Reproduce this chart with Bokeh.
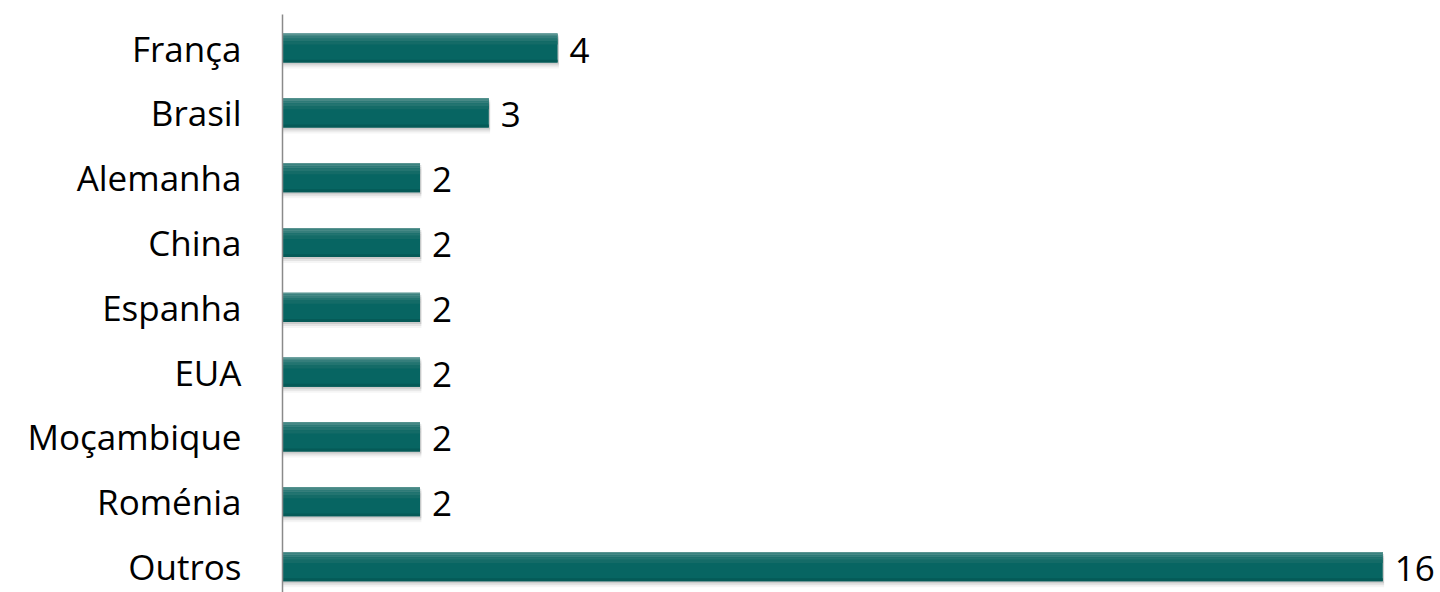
from bokeh.plotting import figure
from bokeh.models import Range1d, ColumnDataSource, FixedTicker
from bokeh.core.properties import value
from bokeh.embed import file_html
from bokeh.resources import INLINE

categories = ["França", "Brasil", "Alemanha", "China", "Espanha", "EUA", "Moçambique", "Roménia", "Outros"]
counts = [4, 3, 2, 2, 2, 2, 2, 2, 16]

positions = list(range(len(categories)))
src = ColumnDataSource(dict(y=positions, v=counts, lbl=[str(c) for c in counts]))

FONT = "Open Sans"
FS = "35px"

p = figure(width=1440, height=592, output_backend="svg", toolbar_location=None,
           x_range=Range1d(0, 16.84), y_range=Range1d(8.40, -0.517),
           min_border_left=282, min_border_right=0, min_border_top=14, min_border_bottom=0)
p.outline_line_color = None
p.background_fill_color = "white"
p.border_fill_color = "white"
p.xgrid.visible = False
p.ygrid.visible = False
p.xaxis.visible = False

bh = 0.45
px = 1.0 / 64.8
# soft shadow
for k, a in [(2, 0.10), (4, 0.07), (6, 0.04)]:
    s = ColumnDataSource(dict(y=[y + k * px for y in positions], v=[c + 0.02 for c in counts]))
    p.hbar(y="y", right="v", left=0, height=bh, source=s, fill_color="#000000", fill_alpha=a,
           line_color=None)
# main bar
p.hbar(y="y", right="v", left=0, height=bh, source=src, fill_color="#076562", line_color=None)
# gradient bands (top lighter)
bands = [("#5a9491", 0.0, 0.05), ("#478986", 0.05, 0.11), ("#357e7b", 0.11, 0.18),
         ("#237470", 0.18, 0.27), ("#146b67", 0.27, 0.38)]
for col, a, b in bands:
    h = (b - a) * bh
    c = -bh / 2 + (a + b) / 2 * bh
    s = ColumnDataSource(dict(y=[y + c for y in positions], v=counts))
    p.hbar(y="y", right="v", left=0, height=h, source=s, fill_color=col, line_color=None)
sb = ColumnDataSource(dict(y=[y + bh / 2 - 0.05 * bh for y in positions], v=counts))
p.hbar(y="y", right="v", left=0, height=0.10 * bh, source=sb, fill_color="#055a57", line_color=None)

p.text(x="v", y="y", text="lbl", source=src, x_offset=12, y_offset=2,
       text_font=value(FONT), text_font_size=FS, text_color="#000000",
       text_baseline="middle", text_align="left")

ax = p.yaxis[0]
ax.ticker = FixedTicker(ticks=positions)
ax.major_label_overrides = {i: c for i, c in enumerate(categories)}
ax.major_tick_line_color = None
ax.minor_tick_line_color = None
ax.major_tick_out = 0
ax.major_tick_in = 0
ax.major_label_standoff = 41
ax.major_label_text_font = FONT
ax.major_label_text_font_size = FS
ax.major_label_text_color = "#000000"
ax.axis_line_color = "#8a8a8a"
ax.axis_line_width = 1.5

open("out.html", "w").write(file_html(p, INLINE))
